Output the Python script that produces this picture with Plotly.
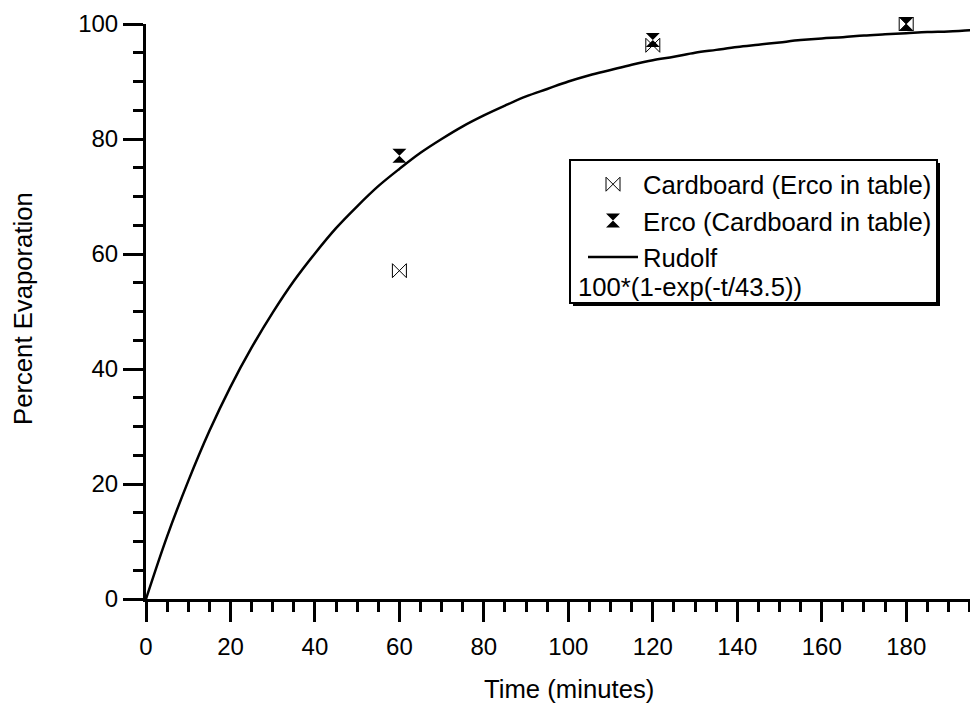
import plotly.graph_objects as go

# measured points (minutes, percent evaporation)
cardboard_t = [60, 120, 180]
cardboard_pct = [57.1, 96.3, 100.0]
erco_t = [60, 120, 180]
erco_pct = [77.1, 97.2, 100.0]

# Rudolf curve, values every 5 minutes
rudolf_t = [0, 5, 10, 15, 20, 25, 30, 35, 40, 45, 50, 55, 60, 65, 70, 75, 80, 85, 90, 95,
            100, 105, 110, 115, 120, 125, 130, 135, 140, 145, 150, 155, 160, 165, 170, 175,
            180, 185, 190, 195, 200]
rudolf_pct = [0.0, 10.9, 20.5, 29.2, 36.9, 43.7, 49.8, 55.3, 60.1, 64.5, 68.3, 71.8, 74.8,
              77.6, 80.0, 82.2, 84.1, 85.8, 87.4, 88.7, 90.0, 91.1, 92.0, 92.9, 93.7, 94.3,
              95.0, 95.5, 96.0, 96.4, 96.8, 97.2, 97.5, 97.7, 98.0, 98.2, 98.4, 98.6, 98.7,
              98.9, 99.0]

formula_text = "100*(1-exp(-t/43.5))"

FONT = "Liberation Sans, Arial, sans-serif"
TEXT_SIZE = 25.7
TICK_SIZE = 24

# page body adds an 8px offset, plot area spans screen x 146..978, y 24..599
PX_W, PX_H = 832, 575


def px(xs):
    return (xs - 146) / PX_W


def py(ys):
    return (599 - ys) / PX_H


fig = go.Figure()

fig.add_trace(go.Scatter(
    x=cardboard_t, y=cardboard_pct, mode="markers", name="Cardboard (Erco in table)",
    marker=dict(symbol="bowtie-open", size=14, color="black", line=dict(width=1, color="black")),
    cliponaxis=False,
))
fig.add_trace(go.Scatter(
    x=erco_t, y=erco_pct, mode="markers", name="Erco (Cardboard in table)",
    marker=dict(symbol="hourglass", size=14, color="black", line=dict(width=0)),
    cliponaxis=False,
))
fig.add_trace(go.Scatter(
    x=rudolf_t, y=rudolf_pct, mode="lines", name="Rudolf",
    line=dict(color="black", width=2.5, shape="spline"),
))

axis_common = dict(
    showline=True, linecolor="black", linewidth=3, mirror=False,
    ticks="outside", ticklen=20, tickwidth=3, tickcolor="black",
    showgrid=False, zeroline=False,
    tickfont=dict(family=FONT, size=TICK_SIZE, color="black"),
)
minor_ticks = dict(dtick=5, ticklen=10, tickwidth=3, tickcolor="black", ticks="outside", showgrid=False)

fig.update_xaxes(range=[0, 197], dtick=20, tick0=0, minor=minor_ticks, ticklabelstandoff=4, **axis_common)
fig.update_yaxes(range=[0, 100], dtick=20, tick0=0, minor=minor_ticks, **axis_common)

# legend frame with drop shadow
box = dict(x0=px(570), x1=px(937), y0=py(303), y1=py(160))
fig.add_shape(type="rect", xref="paper", yref="paper",
              x0=px(573), x1=px(940), y0=py(306), y1=py(163),
              fillcolor="black", line=dict(width=0), layer="above")
fig.add_shape(type="rect", xref="paper", yref="paper", **box,
              fillcolor="white", line=dict(color="black", width=2), layer="above")

fig.add_annotation(
    text=formula_text, xref="paper", yref="paper",
    x=px(576), y=py(287), xanchor="left", yanchor="middle",
    showarrow=False, font=dict(family=FONT, size=TEXT_SIZE, color="black"),
)

fig.add_annotation(
    text="Time (minutes)", xref="paper", yref="paper",
    x=px(569), y=py(689), xanchor="center", yanchor="middle",
    showarrow=False, font=dict(family=FONT, size=TEXT_SIZE, color="black"),
)
fig.add_annotation(
    text="Percent Evaporation", xref="paper", yref="paper", textangle=-90,
    x=px(23), y=py(309), xanchor="center", yanchor="middle",
    showarrow=False, font=dict(family=FONT, size=TEXT_SIZE, color="black"),
)

fig.update_layout(
    width=970, height=696,
    margin=dict(l=138, r=0, t=16, b=105),
    plot_bgcolor="white", paper_bgcolor="white",
    font=dict(family=FONT, size=TEXT_SIZE, color="black"),
    showlegend=True,
    legend=dict(
        x=px(583), y=py(161), xanchor="left", yanchor="top",
        bgcolor="rgba(0,0,0,0)", borderwidth=0, itemwidth=50,
        font=dict(family=FONT, size=TEXT_SIZE, color="black"),
    ),
)

fig.write_html("out.html")
